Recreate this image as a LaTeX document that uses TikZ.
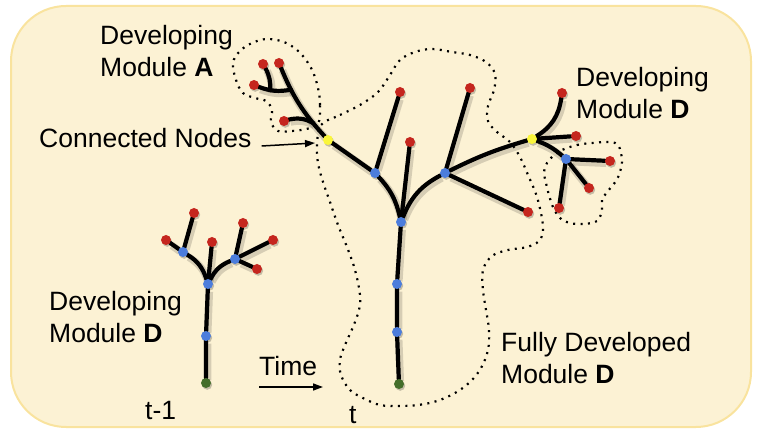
\documentclass[tikz,border=0pt]{standalone}
\usepackage{fontspec}
\setmainfont{Liberation Sans}
\usetikzlibrary{arrows.meta}
\definecolor{cardfill}{RGB}{252,242,212}
\definecolor{cardline}{RGB}{249,227,158}
\definecolor{leafred}{RGB}{197,38,30}
\definecolor{innerblue}{RGB}{76,125,220}
\definecolor{linkyellow}{RGB}{250,246,60}
\definecolor{rootgreen}{RGB}{68,110,42}
\pgfdeclarelayer{back}
\pgfdeclarelayer{mid}
\pgfsetlayers{back,mid,main}
\tikzset{%
    lbl/.style={%
        font=\fontsize{26.5}{32.5}\selectfont,
        inner sep=0pt,
        align=left,
        anchor=north west,
    },
    dot/.style={%
        circle,
        inner sep=0pt,
        minimum size=10pt,
        preaction={fill=black, opacity=.22, transform canvas={shift={(1.2pt,-1.8pt)}}},
    },
    leafdot/.style={dot, fill=leafred},
    innerdot/.style={dot, fill=innerblue},
    linkdot/.style={dot, fill=linkyellow},
    rootdot/.style={dot, fill=rootgreen},
    branch/.style={%
        line width=4.2pt,
        line cap=round,
        preaction={draw=black, opacity=.15, line width=7.5pt, transform canvas={shift={(1.5pt,-2.5pt)}}},
    },
    hull/.style={%
        line width=2.2pt,
        dash pattern=on 2pt off 5.4pt,
    },
    pointer/.style={%
        line width=1.5pt,
        -{Triangle[length=10pt,width=7pt]},
    },
}

\begin{document}
\begin{tikzpicture}[x=1pt, y=-1pt]
	\useasboundingbox (0,0) rectangle (766,438);

	\begin{pgfonlayer}{back}
	\draw[fill=cardfill, draw=cardline, line width=2pt, rounded corners=55pt] (11,6) rectangle (751,427);
	% module outlines
	\draw[hull] plot[smooth cycle, tension=0.6] coordinates {
		(318,124) (320,105) (318,88) (313,72) (306,60) (297,50) (284,42) (267,39)
		(252,43) (240,51) (233,63) (236,80) (243,93) (255,98) (266,101) (272,110)
		(271,122) (278,131) (292,131) (306,129)};
	\draw[hull] plot[smooth cycle, tension=0.6] coordinates {
		(321,125) (340,115) (360,105) (378,92) (390,75) (400,60) (415,52) (432,49)
		(452,52) (470,55) (486,62) (495,74) (494,90) (488,106) (488,121) (497,132)
		(510,142) (520,157) (528,175) (536,194) (541,213) (543,230) (539,241) (527,247)
		(508,250) (492,256) (483,270) (483,290) (486,310) (489,330) (488,350) (481,368)
		(470,382) (455,393) (437,401) (418,405) (398,406) (380,405) (365,399) (350,390)
		(341,375) (340,360) (345,345) (353,327) (359,310) (360,295) (355,270) (347,247)
		(338,225) (330,202) (323,182) (318,163) (317,145)};
	\draw[hull] plot[smooth cycle, tension=0.6] coordinates {
		(562,150) (577,145) (592,143) (610,142) (618,145) (621,153) (622,162) (620,172)
		(616,181) (608,191) (602,200) (602,210) (597,221) (583,224) (570,223) (560,218)
		(553,207) (549,195) (546,183) (544,172) (547,163) (553,156)};
	\end{pgfonlayer}

	% tree at t-1
	\node[rootdot] (sroot) at (206,383) {};
	\node[innerdot] (sb1) at (206,336) {};
	\node[innerdot] (sj) at (208,284) {};
	\node[innerdot] (sbl) at (183,252) {};
	\node[leafdot] (srl) at (166,240) {};
	\node[leafdot] (sru) at (194,213) {};
	\node[leafdot] (srm) at (212,242) {};
	\node[innerdot] (sbr) at (235,259) {};
	\node[leafdot] (sr1) at (243,223) {};
	\node[leafdot] (sr2) at (273,240) {};
	\node[leafdot] (sr3) at (257,269) {};

	% tree at t
	\node[rootdot] (mroot) at (399,384) {};
	\node[innerdot] (mb1) at (397,332) {};
	\node[innerdot] (mb2) at (397,284) {};
	\node[innerdot] (mj) at (401,222) {};
	\node[innerdot] (mbl) at (375,173) {};
	\node[leafdot] (mrl) at (400,92) {};
	\node[leafdot] (mrm) at (410,142) {};
	\node[innerdot] (mbr) at (445,173) {};
	\node[leafdot] (mrr) at (470,88) {};
	\node[leafdot] (mrd) at (528,212) {};
	\node[linkdot] (cy1) at (328,140) {};
	\node[linkdot] (cy2) at (532,139) {};

	% module A
	\node[leafdot] (ar1) at (279,63) {};
	\node[leafdot] (ar2) at (263,64) {};
	\node[leafdot] (ar3) at (254,85) {};
	\node[leafdot] (ar4) at (284,121) {};

	% module D, right
	\node[leafdot] (dr1) at (562,93) {};
	\node[leafdot] (dr2) at (576,136) {};
	\node[innerdot] (db) at (566,159) {};
	\node[leafdot] (dr3) at (610,161) {};
	\node[leafdot] (dr4) at (589,188) {};
	\node[leafdot] (dr5) at (559,208) {};

	\begin{pgfonlayer}{mid}
	\draw[branch] (sroot) -- (sb1) -- (sj);
	\draw[branch] (sj) to[bend right=20] (sbl);
	\draw[branch] (sj) -- (srm);
	\draw[branch] (sj) to[bend left=20] (sbr);
	\draw[branch] (sbl) -- (srl);
	\draw[branch] (sbl) -- (sru);
	\draw[branch] (sbr) -- (sr1);
	\draw[branch] (sbr) -- (sr2);
	\draw[branch] (sbr) -- (sr3);

	\draw[branch] (mroot) -- (mb1) -- (mb2) -- (mj);
	\draw[branch] (mj) to[bend right=15] (mbl);
	\draw[branch] (mj) -- (mrm);
	\draw[branch] (mj) to[bend left=20] (mbr);
	\draw[branch] (mbl) -- (mrl);
	\draw[branch] (mbl) -- (cy1);
	\draw[branch] (mbr) -- (mrr);
	\draw[branch] (mbr) -- (mrd);
	\draw[branch] (mbr) to[bend left=5] (cy2);

	\draw[branch] (cy1) to[bend left=10] node[coordinate, pos=.2] (aj3) {} node[coordinate, pos=.72] (aj1) {} (ar1);
	\draw[branch] (aj3) to[bend right=20] (ar4);
	\draw[branch] (aj1) to[bend left=15] node[coordinate, pos=.65] (aj2) {} (ar3);
	\draw[branch] (aj2) to[bend right=15] (ar2);

	\draw[branch] (cy2) to[bend right=25] (dr1);
	\draw[branch] (cy2) -- (dr2);
	\draw[branch] (cy2) to[bend left=10] (db);
	\draw[branch] (db) -- (dr3);
	\draw[branch] (db) -- (dr4);
	\draw[branch] (db) -- (dr5);
	\end{pgfonlayer}

	% labels
	\node[lbl] (lblA) at (100,25) {Developing\\Module \textbf{A}};
	\node[lbl, anchor=base west] (lblconn) at (39,148) {Connected Nodes};
	\node[lbl] (lblDr) at (576,67) {Developing\\Module \textbf{D}};
	\node[lbl] (lblDl) at (49,291) {Developing\\Module \textbf{D}};
	\node[lbl] (lblfull) at (501,332) {Fully Developed\\Module \textbf{D}};
	\node[lbl, anchor=base west] (lbltime) at (259,376) {Time};
	\node[lbl, anchor=base west] (lblprev) at (145,419) {t-1};
	\node[lbl, anchor=base west] (lblnow) at (349,423) {t};

	\coordinate (conntip) at (315,143);
	\coordinate (timetip) at (323,387);
	\draw[pointer] ([xshift=10pt, yshift=2pt]lblconn.base east) -- (conntip);
	\draw[pointer] (lbltime.south west |- timetip) -- (timetip);
\end{tikzpicture}
\end{document}
